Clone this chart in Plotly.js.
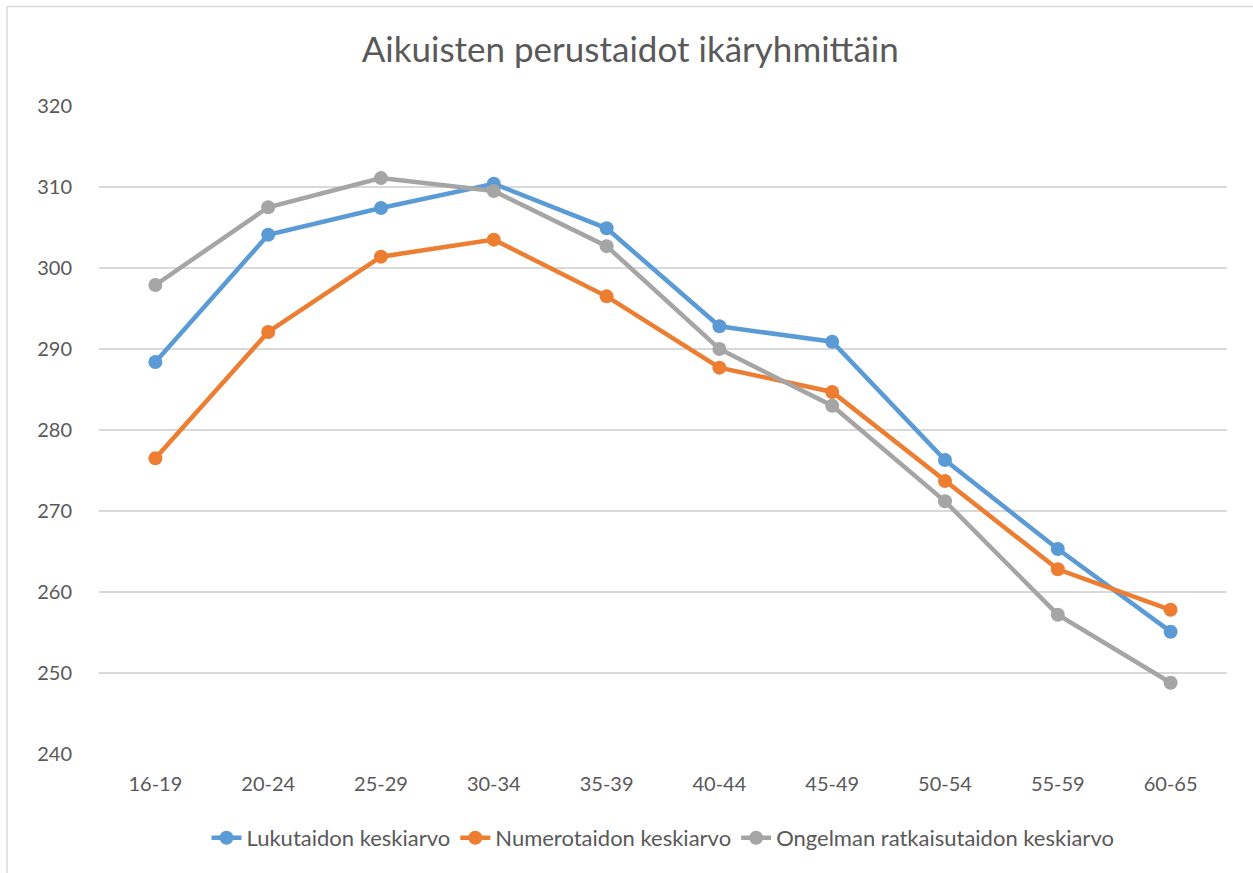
<!DOCTYPE html>
<html>
<head>
<meta charset="utf-8">
<script src="https://cdn.plot.ly/plotly-3.0.1.min.js"></script>
<style>html,body{margin:0;padding:0;background:#fff;}#chart{width:1253px;height:873px;}</style>
</head>
<body>
<div id="chart"></div>
<script>
const ageGroups = ["16-19","20-24","25-29","30-34","35-39","40-44","45-49","50-54","55-59","60-65"];
const lukutaito = [288.4, 304.1, 307.4, 310.4, 304.9, 292.8, 290.9, 276.3, 265.3, 255.1];
const numerotaito = [276.5, 292.1, 301.4, 303.5, 296.5, 287.7, 284.7, 273.7, 262.8, 257.8];
const ongelmanratkaisu = [297.9, 307.5, 311.1, 309.5, 302.7, 290.0, 283.0, 271.2, 257.2, 248.8];
const seriesNames = ["Lukutaidon keskiarvo", "Numerotaidon keskiarvo", "Ongelman ratkaisutaidon keskiarvo"];
const yTicks = [240, 250, 260, 270, 280, 290, 300, 310, 320];

const colors = ["#5B9BD5", "#ED7D31", "#A5A5A5"];
const allSeries = [lukutaito, numerotaito, ongelmanratkaisu];
const font = "Lato, 'Open Sans', sans-serif";
const textColor = "#595959";

const traces = allSeries.map((vals, i) => ({
  type: "scatter",
  mode: "lines+markers",
  x: ageGroups,
  y: vals,
  name: seriesNames[i],
  line: {color: colors[i], width: 4.5},
  marker: {color: colors[i], size: 14},
  hoverinfo: "x+y+name"
}));

const layout = {
  width: 1253,
  height: 873,
  margin: {l: 99, r: 26, t: 106, b: 119},
  paper_bgcolor: "#ffffff",
  plot_bgcolor: "#ffffff",
  font: {family: font, color: textColor},
  title: {
    text: "Aikuisten perustaidot ikäryhmittäin",
    font: {family: font, size: 35, color: textColor},
    x: 0.503, xref: "container", xanchor: "center",
    y: 1 - 50/873, yref: "container", yanchor: "middle"
  },
  xaxis: {
    type: "category",
    range: [-0.5, 9.5],
    showgrid: false,
    zeroline: false,
    showline: false,
    ticks: "",
    tickfont: {family: font, size: 20, color: textColor},
    ticklabelstandoff: 16,
    fixedrange: true
  },
  yaxis: {
    range: [240, 320],
    tickvals: yTicks,
    ticktext: yTicks.map(String),
    showgrid: true,
    gridcolor: "#D9D9D9",
    gridwidth: 1.5,
    zeroline: false,
    showline: false,
    ticks: "",
    tickfont: {family: font, size: 20, color: textColor},
    ticklabelstandoff: 26,
    fixedrange: true
  },
  showlegend: true,
  legend: {
    orientation: "h",
    x: 0.5, xanchor: "center",
    y: -(838-754)/648, yanchor: "middle",
    font: {family: font, size: 22, color: textColor},
    itemwidth: 30,
    traceorder: "normal"
  },
  shapes: [
    {type: "line", xref: "paper", yref: "paper", x0: (7-99)/1128, x1: (1253-99)/1128, y0: 1 + (106-6.5)/648, y1: 1 + (106-6.5)/648, line: {color: "#D9D9D9", width: 1.5}},
    {type: "line", xref: "paper", yref: "paper", x0: (7-99)/1128, x1: (7-99)/1128, y0: 1 + (106-6.5)/648, y1: -(873-754)/648 - 0.01, line: {color: "#D9D9D9", width: 1.5}}
  ]
};

Plotly.newPlot("chart", traces, layout, {displayModeBar: false, staticPlot: true});
</script>
</body>
</html>
